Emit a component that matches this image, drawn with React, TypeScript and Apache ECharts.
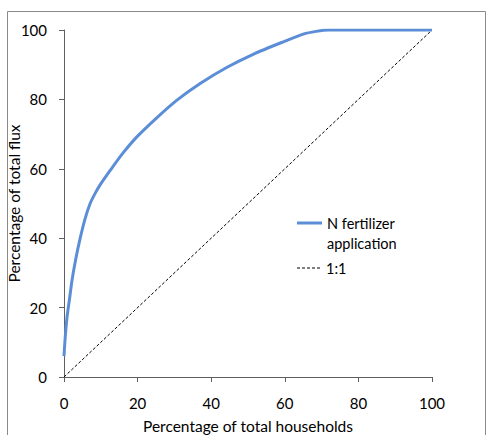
import React, { useEffect, useRef } from "react";
import * as echarts from "echarts";

const households = [0, 0.3, 0.8, 1.5, 2.2, 3.2, 4.4, 5.7, 7.1, 8.5, 9.9, 12.6, 16.0, 19.8, 25.2, 30.7, 37.0, 44.2, 51.4, 59.6, 65.0, 68.5, 72.0, 100];
const flux = [6.0, 11.0, 17.0, 22.5, 28.0, 34.0, 40.0, 45.5, 50.0, 53.0, 55.5, 59.6, 64.5, 69.2, 74.7, 79.8, 84.6, 89.2, 93.0, 96.6, 98.8, 99.6, 100, 100];
const oneToOne = [0, 100];
const xTicks = [0, 20, 40, 60, 80, 100];
const yTicks = [0, 20, 40, 60, 80, 100];

const FONT = "Lato";
const BLUE = "#5B8ED6";

export default function App() {
  const ref = useRef<HTMLDivElement>(null);
  useEffect(() => {
    if (!ref.current) return;
    const chart = echarts.init(ref.current, null, { renderer: "svg" });
    const axisLine = { show: true, lineStyle: { color: "#5f5f5f", width: 1 } };
    chart.setOption({
      animation: false,
      backgroundColor: "#ffffff",
      textStyle: { fontFamily: FONT },
      grid: { left: 64, right: 55, top: 30, bottom: 58, containLabel: false, outerBoundsMode: "none" },
      xAxis: {
        type: "value",
        min: xTicks[0],
        max: xTicks[xTicks.length - 1],
        interval: 20,
        name: "Percentage of total households",
        nameLocation: "middle",
        nameGap: 41,
        nameMoveOverlap: false,
        nameTextStyle: { fontFamily: FONT, fontSize: 15.5, color: "#000", lineHeight: 16 },
        axisLine,
        axisTick: { show: true, inside: false, length: 5, lineStyle: { color: "#5f5f5f" } },
        axisLabel: { fontFamily: FONT, fontSize: 15, color: "#000", margin: 18 },
        splitLine: { show: false },
      },
      yAxis: {
        type: "value",
        min: yTicks[0],
        max: yTicks[yTicks.length - 1],
        interval: 20,
        name: "Percentage of total flux",
        nameLocation: "middle",
        nameGap: 42,
        nameMoveOverlap: false,
        nameTextStyle: { fontFamily: FONT, fontSize: 15.5, color: "#000" },
        axisLine,
        axisTick: { show: true, inside: false, length: 5, lineStyle: { color: "#5f5f5f" } },
        axisLabel: { fontFamily: FONT, fontSize: 15, color: "#000", margin: 17 },
        splitLine: { show: false },
      },
      legend: [
        {
          orient: "vertical",
          left: 297,
          top: 193,
          itemWidth: 25,
          itemHeight: 3,
          padding: 0,
          textStyle: { fontFamily: FONT, fontSize: 14.5, color: "#000", lineHeight: 20 },
          formatter: () => "\nN fertilizer\napplication",
          data: [{ name: "N fertilizer application", icon: "path://M0,0H25V3H0Z" }],
        },
        {
          orient: "vertical",
          left: 297,
          top: 258,
          itemWidth: 25,
          itemHeight: 1,
          padding: 0,
          textStyle: { fontFamily: FONT, fontSize: 14.5, color: "#000", lineHeight: 20 },
          data: [
            {
              name: "1:1",
              icon: "path://M0,0h3v1h-3z M5,0h3v1h-3z M10,0h3v1h-3z M15,0h3v1h-3z M20,0h3v1h-3z",
            },
          ],
        },
      ],
      graphic: [
        {
          type: "rect",
          shape: { x: 7.5, y: 11.5, width: 478, height: 500 },
          style: { fill: "none", stroke: "#8a8a8a", lineWidth: 1 },
          silent: true,
          z: -1,
        },
      ],
      series: [
        {
          name: "N fertilizer application",
          type: "line",
          data: households.map((x, i) => [x, flux[i]]),
          showSymbol: false,
          symbol: "none",
          smooth: 0.25,
          lineStyle: { color: BLUE, width: 3 },
          itemStyle: { color: BLUE },
          z: 3,
        },
        {
          name: "1:1",
          type: "line",
          data: oneToOne.map((v) => [v, v]),
          showSymbol: false,
          symbol: "none",
          lineStyle: { color: "#000", width: 1, type: [3, 2] },
          itemStyle: { color: "#000" },
          z: 2,
        },
      ],
    });
    return () => chart.dispose();
  }, []);
  return (
    <div
      ref={ref}
      style={{ position: "fixed", left: 0, top: 0, width: 487, height: 435 }}
    />
  );
}
